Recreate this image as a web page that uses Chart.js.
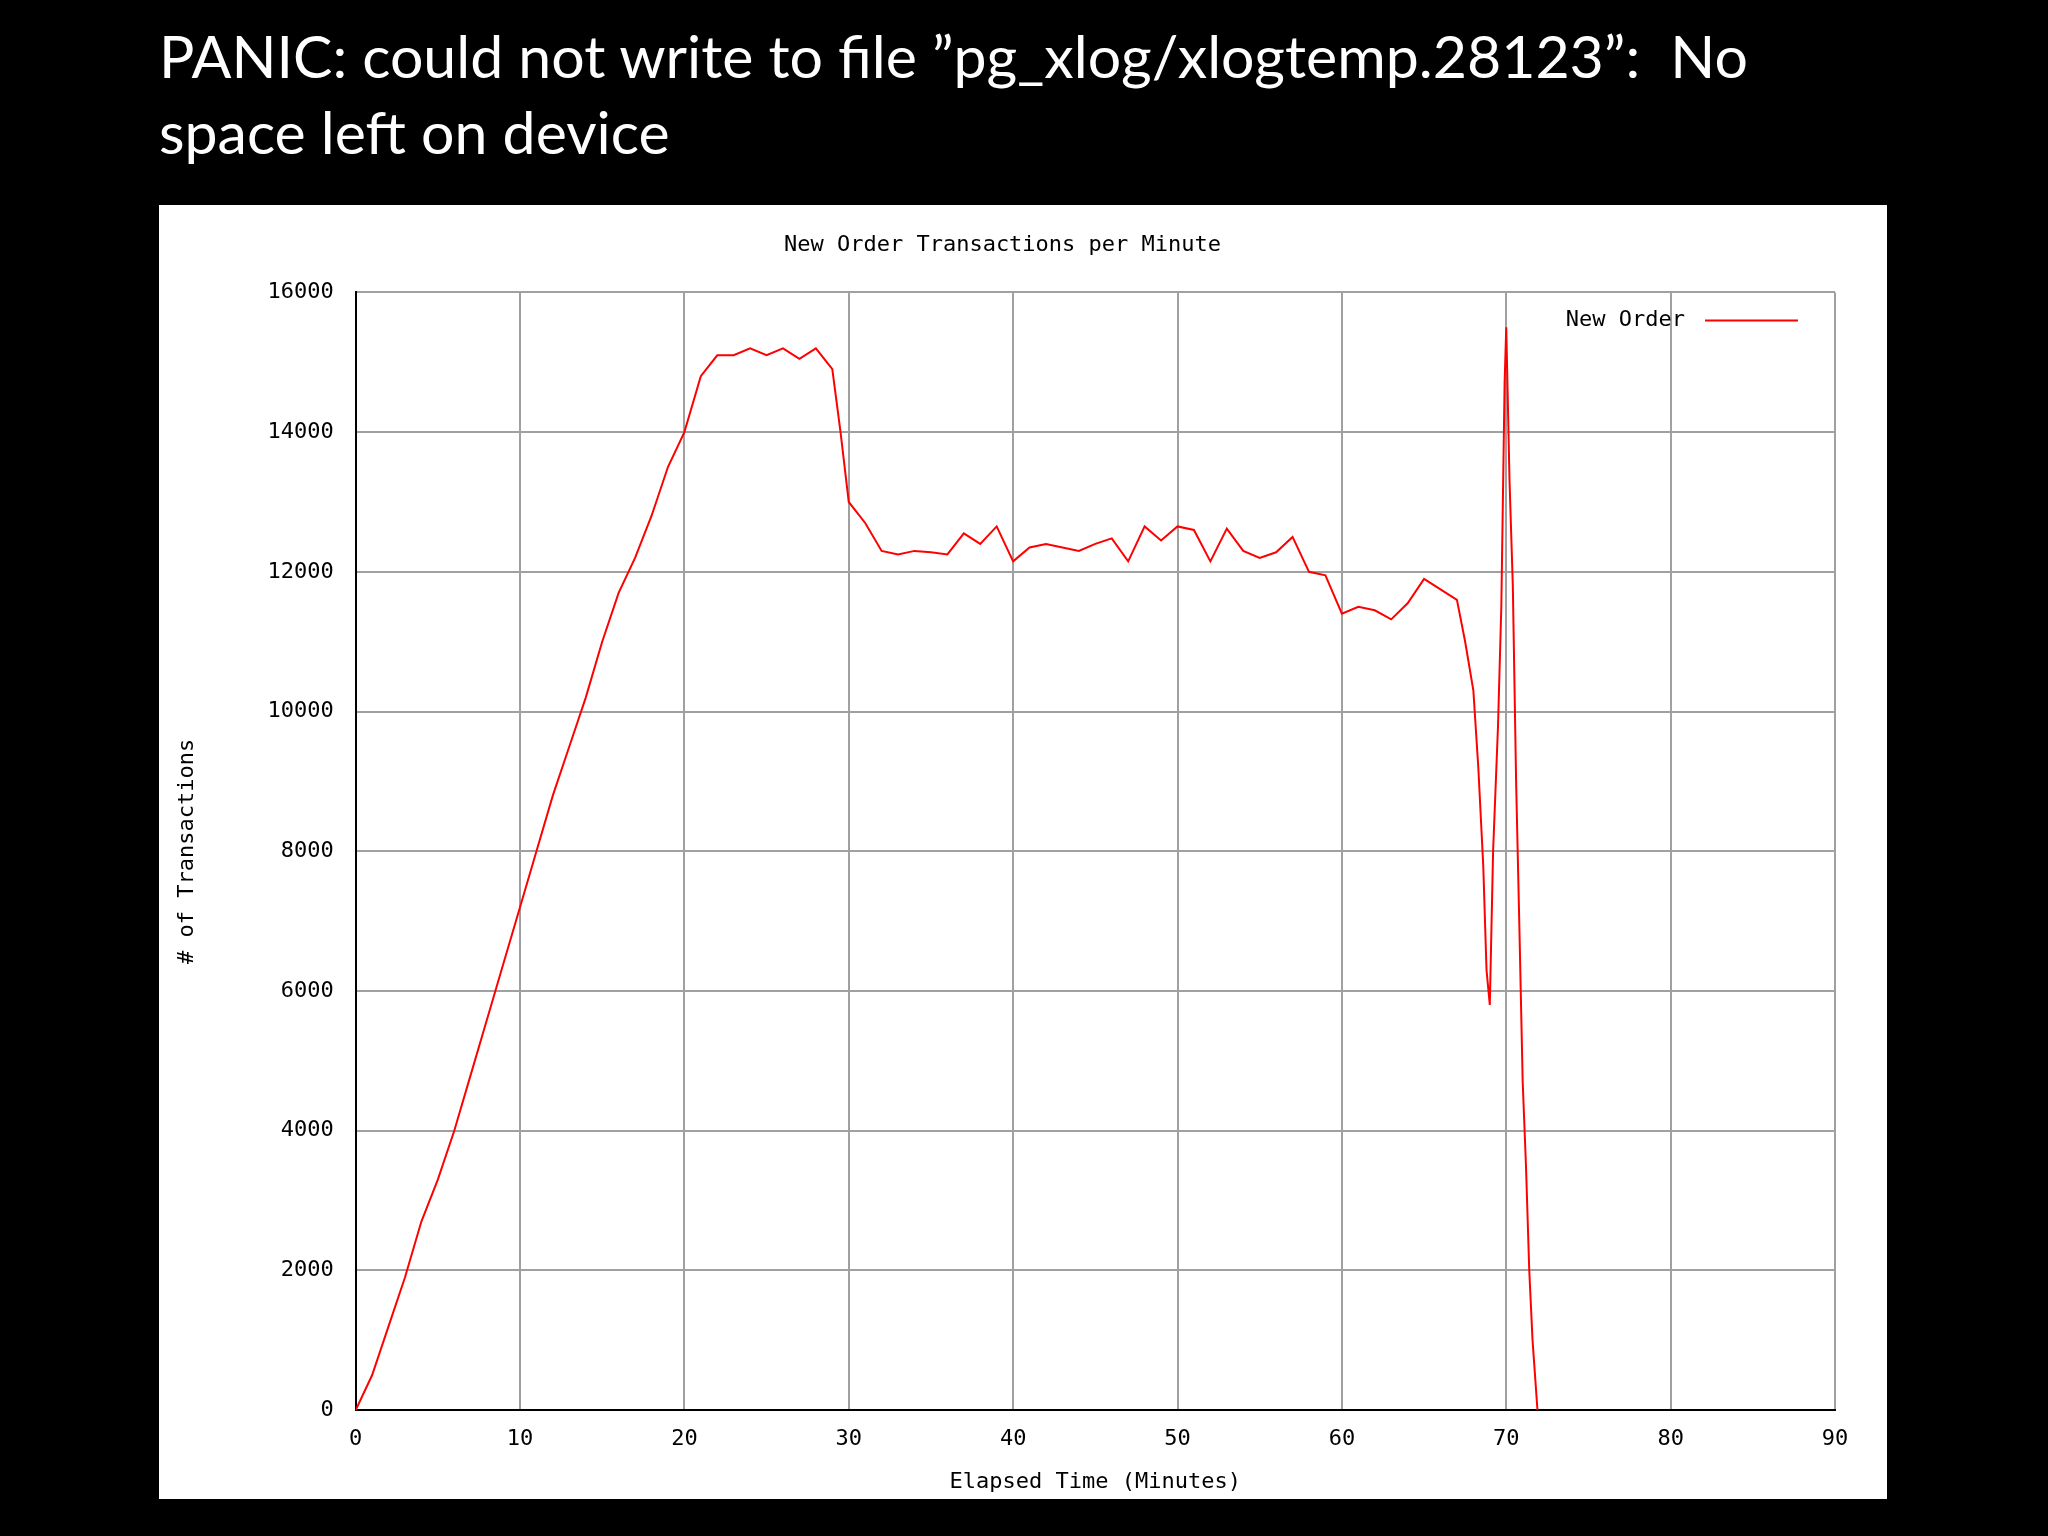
<!DOCTYPE html>
<html><head><meta charset="utf-8">
<script src="https://cdn.jsdelivr.net/npm/chart.js@4"></script>
<style>
html,body{margin:0;padding:0;background:#000;width:2048px;height:1536px;overflow:hidden}
#t{position:absolute;left:159px;top:18px;color:#fff;font-family:"Lato","DejaVu Sans",sans-serif;font-size:59px;line-height:76px}
#box{position:absolute;left:159px;top:205px;width:1728px;height:1294px;background:#fff}
</style></head><body>
<div id="t">PANIC: could not write to file ”pg_xlog/xlogtemp.28123”:&nbsp; No<br>space left on device</div>
<div id="box"><canvas id="c" width="1728" height="1294"></canvas></div>
<script>
const minutes = [0,1,2,3,4,5,6,7,8,9,10,11,12,13,14,15,16,17,18,19,20,21,22,23,24,25,26,27,28,29,29.5,30,31,32,33,34,35,36,37,38,39,40,41,42,43,44,45,46,47,48,49,50,51,52,53,54,55,56,57,58,59,60,61,62,63,64,65,66,67,67.5,68,68.3,68.6,68.8,69,69.2,69.5,69.7,69.9,70,70.2,70.4,70.6,70.8,71,71.2,71.4,71.6,71.9];
const newOrder = [0,500,1200,1900,2700,3300,4000,4800,5600,6400,7200,8000,8800,9500,10200,11000,11700,12200,12800,13500,14000,14800,15100,15100,15200,15100,15200,15050,15200,14900,14000,13000,12700,12300,12250,12300,12280,12250,12550,12400,12650,12150,12350,12400,12350,12300,12400,12480,12150,12650,12450,12650,12600,12150,12620,12300,12200,12280,12500,12000,11950,11400,11500,11450,11320,11550,11900,11750,11600,11000,10300,9200,7800,6300,5800,8000,9800,11500,14700,15500,13300,11800,9000,6900,4700,3500,2000,1000,0];
const xTicks = [0,10,20,30,40,50,60,70,80,90];
const yTicks = [0,2000,4000,6000,8000,10000,12000,14000,16000];
const F = '"DejaVu Sans Mono", monospace';
const legendPlugin = {id:'lg',afterDraw(ch){const a=ch.chartArea,c=ch.ctx;c.save();c.font='22px '+F;c.fillStyle='#000';c.textAlign='right';c.textBaseline='middle';c.fillText('New Order',a.right-150,a.top+28);c.strokeStyle='#f00';c.lineWidth=2;c.beginPath();c.moveTo(a.right-130,a.top+28);c.lineTo(a.right-37,a.top+28);c.stroke();c.restore();}};
new Chart(document.getElementById('c'),{
 type:'line',
 data:{datasets:[{label:'New Order',data:minutes.map((m,i)=>({x:m,y:newOrder[i]})),borderColor:'#f00',borderWidth:2,pointRadius:0,tension:0}]},
 options:{responsive:false,animation:false,
  layout:{padding:{top:27,right:52,left:11,bottom:0}},
  plugins:{legend:{display:false},tooltip:{enabled:false},
   title:{display:true,text:'New Order Transactions per Minute',color:'#000',font:{family:F,size:22,weight:'normal'},padding:{top:0,bottom:34}}},
  scales:{
   x:{type:'linear',min:0,max:90,afterBuildTicks:a=>{a.ticks=xTicks.map(v=>({value:v}))},
      grid:{color:'#a0a0a0',lineWidth:2,drawTicks:false},border:{color:'#000',width:2},
      ticks:{color:'#000',font:{family:F,size:22},padding:16,callback:v=>String(v)},
      title:{display:true,text:'Elapsed Time (Minutes)',color:'#000',font:{family:F,size:22},padding:{top:0}}},
   y:{min:0,max:16000,afterBuildTicks:a=>{a.ticks=yTicks.map(v=>({value:v}))},
      grid:{color:'#a0a0a0',lineWidth:2,drawTicks:false},border:{color:'#000',width:2},
      ticks:{color:'#000',font:{family:F,size:22},padding:22,callback:v=>String(v)},
      title:{display:true,text:'# of Transactions',color:'#000',font:{family:F,size:22},padding:{bottom:45}}}
  }},
 plugins:[legendPlugin]
});
</script></body></html>
